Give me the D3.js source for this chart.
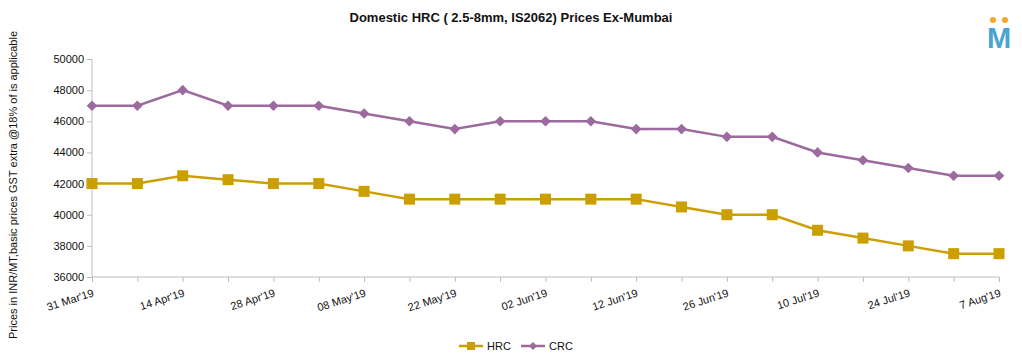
<!DOCTYPE html>
<html>
<head>
<meta charset="utf-8">
<script src="https://cdn.jsdelivr.net/npm/d3@7/dist/d3.min.js"></script>
<style>
  html, body { margin: 0; padding: 0; background: #fff; }
  svg { display: block; font-family: "Liberation Sans", Arial, sans-serif; }
</style>
</head>
<body>
<svg id="chart" width="1022" height="358"></svg>
<script>
const categories = ["31 Mar'19","", "14 Apr'19","", "28 Apr'19","", "08 May'19","", "22 May'19","", "02 Jun'19","", "12 Jun'19","", "26 Jun'19","", "10 Jul'19","", "24 Jul'19","", "7 Aug'19"];
const hrcValues = [42000, 42000, 42500, 42250, 42000, 42000, 41500, 41000, 41000, 41000, 41000, 41000, 41000, 40500, 40000, 40000, 39000, 38500, 38000, 37500, 37500];
const crcValues = [47000, 47000, 48000, 47000, 47000, 47000, 46500, 46000, 45500, 46000, 46000, 46000, 45500, 45500, 45000, 45000, 44000, 43500, 43000, 42500, 42500];
const yTicks = [36000, 38000, 40000, 42000, 44000, 46000, 48000, 50000];
const seriesNames = ["HRC", "CRC"];

(function () {
const svg = d3.select("#chart");
const pLeft = 92, pRight = 999, pTop = 59, pBottom = 277;
const hrcColor = "#cc9f00", crcColor = "#9c6a9e", axisColor = "#bdbdbd";

const x = d3.scalePoint().domain(d3.range(categories.length)).range([pLeft, pRight]);
const y = d3.scaleLinear().domain([36000, 50000]).range([pBottom, pTop]);

// Title
svg.append("text").attr("x", 511).attr("y", 22).attr("text-anchor", "middle")
  .attr("font-weight", "bold").attr("font-size", 13).attr("fill", "#111")
  .text("Domestic HRC ( 2.5-8mm, IS2062) Prices Ex-Mumbai");

// Y axis
const yAxis = svg.append("g").attr("transform", `translate(${pLeft},0)`)
  .call(d3.axisLeft(y).tickValues(yTicks).tickSize(5).tickPadding(3).tickFormat(d3.format("d")));
yAxis.select(".domain").attr("stroke", axisColor).attr("d", `M0,${pTop}V${pBottom}`);
yAxis.selectAll(".tick line").attr("stroke", axisColor);
yAxis.selectAll(".tick text").attr("font-size", 11).attr("fill", "#111").attr("font-family", "Liberation Sans, Arial, sans-serif");

// X axis
const xAxis = svg.append("g").attr("transform", `translate(0,${pBottom})`)
  .call(d3.axisBottom(x).tickSize(5).tickFormat(i => categories[i]));
xAxis.select(".domain").attr("stroke", axisColor).attr("d", `M${pLeft},0H${pRight}`);
xAxis.selectAll(".tick line").attr("stroke", axisColor);
xAxis.selectAll(".tick text").attr("font-size", 11).attr("fill", "#111")
  .attr("font-family", "Liberation Sans, Arial, sans-serif")
  .attr("text-anchor", "end").attr("dy", null).attr("y", 0)
  .attr("transform", "translate(2,19) rotate(-18)");

// Y title
svg.append("text").attr("transform", "translate(17,185) rotate(-90)")
  .attr("text-anchor", "middle").attr("font-size", 11).attr("fill", "#111")
  .text("Prices in INR/MT,basic prices GST extra @18% of is applicable");

// Lines
const line = d3.line().x((d, i) => x(i)).y(d => y(d));
svg.append("path").datum(crcValues).attr("d", line).attr("fill", "none")
  .attr("stroke", crcColor).attr("stroke-width", 2.5);
svg.append("path").datum(hrcValues).attr("d", line).attr("fill", "none")
  .attr("stroke", hrcColor).attr("stroke-width", 2.5);

// Markers
const diamond = d3.symbol().type(d3.symbolDiamond2).size(72);
svg.append("g").selectAll("path").data(crcValues).join("path")
  .attr("transform", (d, i) => `translate(${x(i)},${y(d)})`)
  .attr("d", diamond).attr("fill", crcColor);
svg.append("g").selectAll("rect").data(hrcValues).join("rect")
  .attr("x", (d, i) => x(i) - 5.5).attr("y", d => y(d) - 5.5)
  .attr("width", 11).attr("height", 11).attr("fill", hrcColor);

// Legend
const legend = svg.append("g");
const legendItems = [
  {name: seriesNames[0], color: hrcColor, x0: 459, shape: "square"},
  {name: seriesNames[1], color: crcColor, x0: 521, shape: "diamond"}
];
legendItems.forEach(it => {
  const g = legend.append("g").attr("transform", `translate(${it.x0},346)`);
  g.append("line").attr("x1", 0).attr("x2", 24).attr("stroke", it.color).attr("stroke-width", 2.5);
  if (it.shape === "square") {
    g.append("rect").attr("x", 8).attr("y", -4).attr("width", 8).attr("height", 8).attr("fill", it.color);
  } else {
    g.append("path").attr("transform", "translate(12,0)").attr("d", d3.symbol().type(d3.symbolDiamond2).size(40)()).attr("fill", it.color);
  }
  g.append("text").attr("x", 28).attr("y", 4).attr("font-size", 11).attr("fill", "#111").text(it.name);
});

// Logo
const logo = svg.append("g");
logo.append("circle").attr("cx", 993).attr("cy", 20).attr("r", 3).attr("fill", "#f5a52a");
logo.append("circle").attr("cx", 1005).attr("cy", 20).attr("r", 3).attr("fill", "#f5a52a");
logo.append("text").attr("x", 999).attr("y", 48).attr("text-anchor", "middle")
  .attr("font-size", 29).attr("font-weight", "bold").attr("fill", "#4ba3d3")
  .attr("font-family", "Liberation Sans, Arial, sans-serif").text("M");
})();
</script>
</body>
</html>
